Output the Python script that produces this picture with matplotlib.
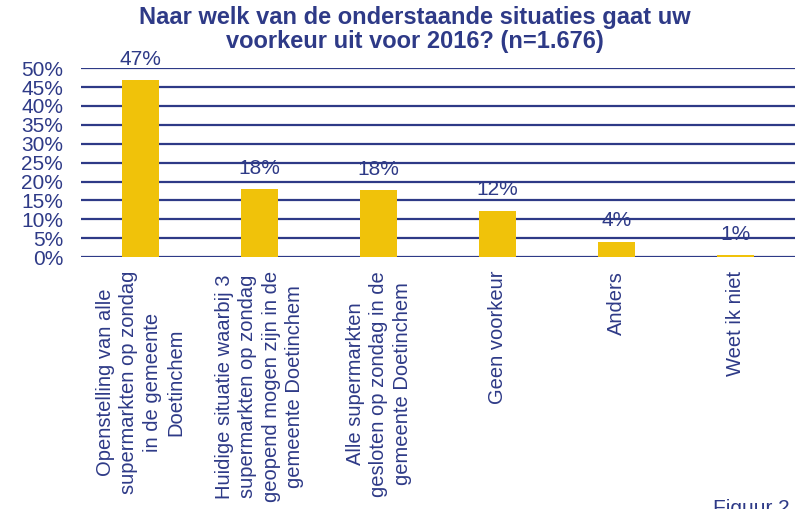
import matplotlib
matplotlib.use("Agg")
import matplotlib.pyplot as plt
import numpy as np

plt.rcParams["font.family"] = ["Liberation Sans", "DejaVu Sans"]

NAVY = "#2E3A87"
GOLD = "#F0C20A"

categories = [
    "Openstelling van alle\nsupermarkten op zondag\nin de gemeente\nDoetinchem",
    "Huidige situatie waarbij 3\nsupermarkten op zondag\ngeopend mogen zijn in de\ngemeente Doetinchem",
    "Alle supermarkten\ngesloten op zondag in de\ngemeente Doetinchem",
    "Geen voorkeur",
    "Anders",
    "Weet ik niet",
]
values = [46.8, 18.1, 17.8, 12.3, 4.1, 0.6]
value_labels = ["47%", "18%", "18%", "12%", "4%", "1%"]
yticks = [0, 5, 10, 15, 20, 25, 30, 35, 40, 45, 50]

fig = plt.figure(figsize=(7.95, 5.09), dpi=100)
ax = fig.add_axes([0.102, 0.495, 0.898, 0.371])

x = np.arange(len(categories))
bars = ax.bar(x, values, width=0.31, color=GOLD, zorder=3)

for b, lab in zip(bars, value_labels):
    ax.annotate(lab, (b.get_x() + b.get_width() / 2, b.get_height()),
                xytext=(0, 8), textcoords="offset points",
                ha="center", va="bottom", fontsize=15, color=NAVY)

ax.set_xlim(-0.5, 5.5)
ax.set_ylim(0, 50)
ax.set_yticks(yticks)
ax.set_yticklabels([f"{t}%" for t in yticks], fontsize=15, color=NAVY)
ax.yaxis.grid(True, color=NAVY, linewidth=1.6, zorder=0)
ax.tick_params(axis="y", length=0, pad=13)
ax.tick_params(axis="x", length=0)
ax.set_xticks(x)
ax.set_xticklabels([])
for s in ax.spines.values():
    s.set_visible(False)
ax.set_axisbelow(True)

for xi, cat in zip(x, categories):
    ax.annotate(cat, (xi, 0), xytext=(0, -10), textcoords="offset points",
                rotation=90, ha="center", va="top", multialignment="center",
                fontsize=14.5, color=NAVY, linespacing=1.3,
                annotation_clip=False)

fig.text(415 / 795, 1 - 6 / 509, "Naar welk van de onderstaande situaties gaat uw\nvoorkeur uit voor 2016? (n=1.676)",
         ha="center", va="top", fontsize=17, fontweight="bold", color=NAVY,
         linespacing=1.08)

fig.text(713 / 795, 1 - 499 / 509, "Figuur 2", ha="left", va="top",
         fontsize=15, color=NAVY)

fig.savefig("out.png", dpi=100)
